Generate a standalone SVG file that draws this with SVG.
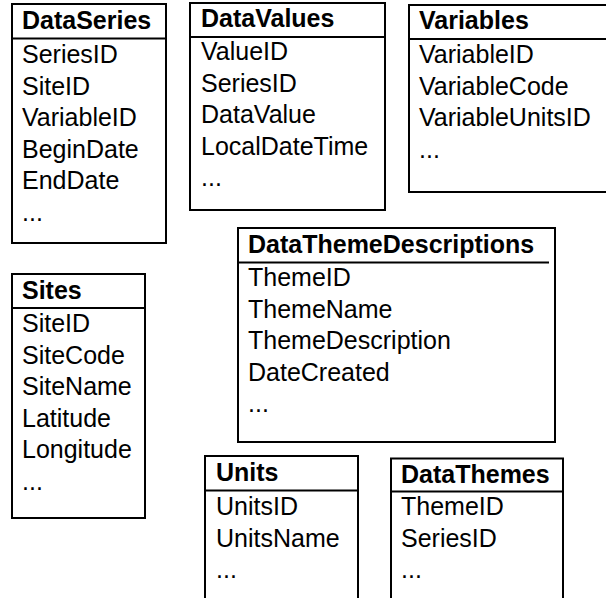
<svg xmlns="http://www.w3.org/2000/svg" width="606" height="598" viewBox="0 0 606 598">
  <style>
    .box { fill: #ffffff; stroke: #000000; stroke-width: 2; }
    .sep { stroke: #000000; stroke-width: 2; }
    .title { font-family: "Liberation Sans", Arial, sans-serif; font-size: 25px; font-weight: bold; fill: #000000; }
    .field { font-family: "Liberation Sans", Arial, sans-serif; font-size: 25px; fill: #000000; }
  </style>
  <rect width="606" height="598" fill="#ffffff"/>

  <g id="connectors"></g>

  <!-- DataSeries table -->
  <g id="DataSeries">
    <rect class="box" x="12" y="4" width="154" height="239"/>
    <line class="sep" x1="12" y1="38.5" x2="166" y2="38.5"/>
    <text class="title" x="22" y="29">DataSeries</text>
    <text class="field" x="22" y="63">SeriesID</text>
    <text class="field" x="22" y="94.6">SiteID</text>
    <text class="field" x="22" y="126.2">VariableID</text>
    <text class="field" x="22" y="157.8">BeginDate</text>
    <text class="field" x="22" y="189.4">EndDate</text>
    <text class="field" x="22" y="221">...</text>
  </g>

  <!-- DataValues table -->
  <g id="DataValues">
    <rect class="box" x="190" y="3" width="195" height="207"/>
    <line class="sep" x1="190" y1="37" x2="385" y2="37"/>
    <text class="title" x="201" y="27">DataValues</text>
    <text class="field" x="201" y="60">ValueID</text>
    <text class="field" x="201" y="91.6">SeriesID</text>
    <text class="field" x="201" y="123.2">DataValue</text>
    <text class="field" x="201" y="154.8">LocalDateTime</text>
    <text class="field" x="201" y="186.4">...</text>
  </g>

  <!-- Variables table (runs past the right edge) -->
  <g id="Variables">
    <rect class="box" x="409" y="5" width="210" height="187"/>
    <line class="sep" x1="409" y1="39" x2="619" y2="39"/>
    <text class="title" x="419" y="29">Variables</text>
    <text class="field" x="419" y="63">VariableID</text>
    <text class="field" x="419" y="94.6">VariableCode</text>
    <text class="field" x="419" y="126.2">VariableUnitsID</text>
    <text class="field" x="419" y="157.8">...</text>
  </g>

  <!-- Sites table -->
  <g id="Sites">
    <rect class="box" x="12" y="274" width="133" height="244"/>
    <line class="sep" x1="12" y1="308" x2="145" y2="308"/>
    <text class="title" x="22" y="299">Sites</text>
    <text class="field" x="22" y="332">SiteID</text>
    <text class="field" x="22" y="363.6">SiteCode</text>
    <text class="field" x="22" y="395.2">SiteName</text>
    <text class="field" x="22" y="426.8">Latitude</text>
    <text class="field" x="22" y="458.4">Longitude</text>
    <text class="field" x="22" y="490">...</text>
  </g>

  <!-- DataThemeDescriptions table -->
  <g id="DataThemeDescriptions">
    <rect class="box" x="238" y="228" width="317" height="214"/>
    <line class="sep" x1="238" y1="262.5" x2="549" y2="262.5"/>
    <text class="title" x="248" y="253">DataThemeDescriptions</text>
    <text class="field" x="248" y="286">ThemeID</text>
    <text class="field" x="248" y="317.6">ThemeName</text>
    <text class="field" x="248" y="349.2">ThemeDescription</text>
    <text class="field" x="248" y="380.8">DateCreated</text>
    <text class="field" x="248" y="412.4">...</text>
  </g>

  <!-- Units table (runs past the bottom edge) -->
  <g id="Units">
    <rect class="box" x="205" y="456" width="153" height="160"/>
    <line class="sep" x1="205" y1="490.5" x2="358" y2="490.5"/>
    <text class="title" x="216" y="481">Units</text>
    <text class="field" x="216" y="515">UnitsID</text>
    <text class="field" x="216" y="546.6">UnitsName</text>
    <text class="field" x="216" y="578.2">...</text>
  </g>

  <!-- DataThemes table (runs past the bottom edge) -->
  <g id="DataThemes">
    <rect class="box" x="391" y="458.5" width="172" height="160"/>
    <line class="sep" x1="391" y1="491.5" x2="563" y2="491.5"/>
    <text class="title" x="401" y="483">DataThemes</text>
    <text class="field" x="401" y="515">ThemeID</text>
    <text class="field" x="401" y="546.6">SeriesID</text>
    <text class="field" x="401" y="578.2">...</text>
  </g>
</svg>
